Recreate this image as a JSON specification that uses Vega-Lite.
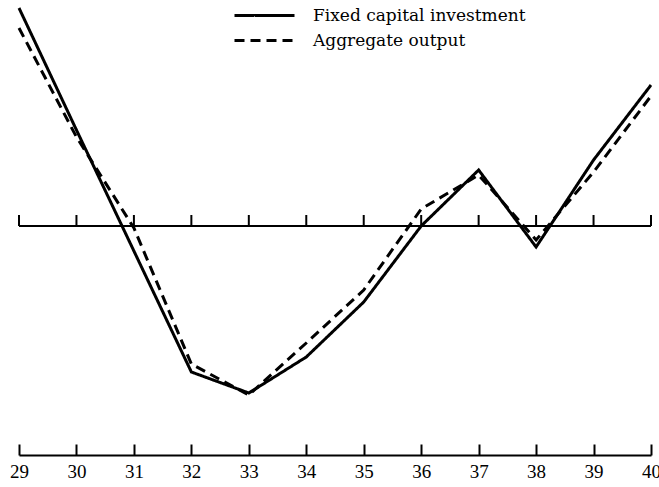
{
  "$schema": "https://vega.github.io/schema/vega-lite/v6.json",
  "width": 632,
  "height": 455,
  "autosize": "none",
  "padding": {"left": 19, "top": 0, "right": 8, "bottom": 32},
  "background": "white",
  "config": {"view": {"stroke": null}},
  "data": {"values": [
    {"year": 29, "value": 218, "series": "Fixed capital investment"},
    {"year": 30, "value": 96, "series": "Fixed capital investment"},
    {"year": 31, "value": -25, "series": "Fixed capital investment"},
    {"year": 32, "value": -146, "series": "Fixed capital investment"},
    {"year": 33, "value": -167, "series": "Fixed capital investment"},
    {"year": 34, "value": -131, "series": "Fixed capital investment"},
    {"year": 35, "value": -76, "series": "Fixed capital investment"},
    {"year": 36, "value": 0, "series": "Fixed capital investment"},
    {"year": 37, "value": 56, "series": "Fixed capital investment"},
    {"year": 38, "value": -21, "series": "Fixed capital investment"},
    {"year": 39, "value": 66, "series": "Fixed capital investment"},
    {"year": 40, "value": 141, "series": "Fixed capital investment"},
    {"year": 29, "value": 198, "series": "Aggregate output"},
    {"year": 30, "value": 89, "series": "Aggregate output"},
    {"year": 31, "value": -2, "series": "Aggregate output"},
    {"year": 32, "value": -138, "series": "Aggregate output"},
    {"year": 33, "value": -169, "series": "Aggregate output"},
    {"year": 34, "value": -117, "series": "Aggregate output"},
    {"year": 35, "value": -64, "series": "Aggregate output"},
    {"year": 36, "value": 17, "series": "Aggregate output"},
    {"year": 37, "value": 51, "series": "Aggregate output"},
    {"year": 38, "value": -14, "series": "Aggregate output"},
    {"year": 39, "value": 54, "series": "Aggregate output"},
    {"year": 40, "value": 130, "series": "Aggregate output"}
  ]},
  "layer": [
    {
      "mark": {"type": "rule", "color": "black", "strokeWidth": 2},
      "encoding": {
        "y": {"datum": 0, "type": "quantitative", "axis": null}
      }
    },
    {
      "transform": [{"filter": "datum.series == 'Aggregate output'"}],
      "mark": {"type": "rule", "color": "black", "strokeWidth": 2},
      "encoding": {
        "x": {
          "field": "year",
          "type": "quantitative",
          "scale": {"domain": [29, 40], "nice": false, "zero": false},
          "axis": {
            "title": null,
            "values": [29, 30, 31, 32, 33, 34, 35, 36, 37, 38, 39, 40],
            "grid": false,
            "domainColor": "black",
            "domainWidth": 2,
            "tickColor": "black",
            "tickWidth": 2,
            "tickSize": -11,
            "labelPadding": 18,
            "labelFlush": false,
            "labelFont": "Liberation Serif",
            "labelFontSize": 19,
            "labelColor": "black"
          }
        },
        "y": {"datum": 0, "type": "quantitative", "axis": null},
        "y2": {"datum": 11}
      }
    },
    {
      "mark": {"type": "line", "color": "black", "strokeWidth": 3},
      "encoding": {
        "x": {
          "field": "year",
          "type": "quantitative",
          "scale": {"domain": [29, 40], "nice": false, "zero": false},
          "axis": {
            "title": null,
            "values": [29, 30, 31, 32, 33, 34, 35, 36, 37, 38, 39, 40],
            "grid": false,
            "domainColor": "black",
            "domainWidth": 2,
            "tickColor": "black",
            "tickWidth": 2,
            "tickSize": -11,
            "labelPadding": 18,
            "labelFlush": false,
            "labelFont": "Liberation Serif",
            "labelFontSize": 19,
            "labelColor": "black"
          }
        },
        "y": {
          "field": "value",
          "type": "quantitative",
          "scale": {"domain": [-229, 226], "nice": false, "zero": false},
          "axis": null
        },
        "strokeDash": {
          "field": "series",
          "type": "nominal",
          "scale": {
            "domain": ["Fixed capital investment", "Aggregate output"],
            "range": [[1, 0], [10, 6]]
          },
          "legend": {
            "title": null,
            "orient": "none",
            "legendX": 229,
            "legendY": -1,
            "symbolType": "M-2,0H2",
            "symbolSize": 900,
            "symbolStrokeWidth": 3,
            "symbolStrokeColor": "black",
            "symbolFillColor": "transparent",
            "labelFont": "DejaVu Serif",
            "labelFontSize": 17,
            "labelColor": "black",
            "labelOffset": 32,
            "labelLimit": 0,
            "rowPadding": -4
          }
        }
      }
    }
  ]
}
